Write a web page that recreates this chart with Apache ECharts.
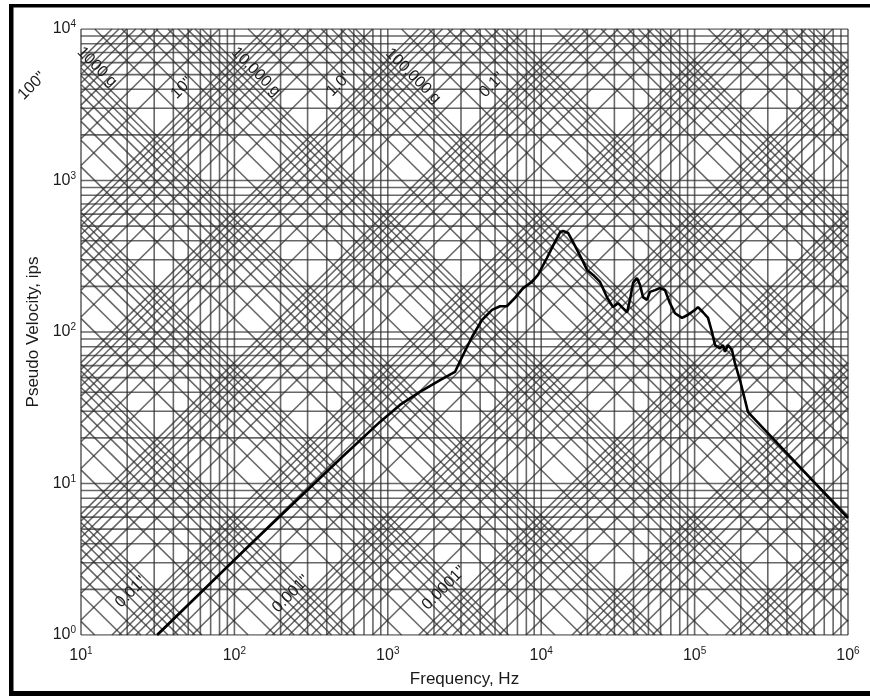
<!DOCTYPE html>
<html>
<head>
<meta charset="utf-8">
<title>Pseudo Velocity SRS</title>
<script src="https://cdn.jsdelivr.net/npm/echarts@6/dist/echarts.min.js"></script>
<style>
  html, body { margin: 0; padding: 0; background: #fff; }
  #chart { width: 870px; height: 696px; }
</style>
</head>
<body>
<div id="chart"></div>
<script>
// response curve (Hz, ips)
const freqHz = [31.3, 126, 488, 889, 1200, 1620, 2190, 2740, 3050, 3540, 4110, 4780, 5390, 5990,
  6750, 7610, 8710, 9530, 10900, 12300, 13300, 13900, 15000, 16100, 18500, 19900, 21800, 24200,
  26800, 29400, 31700, 33600, 36300, 37900, 39700, 42100, 44100, 46100, 48900, 51200, 55200,
  59500, 64100, 69100, 74500, 82800, 90600, 100600, 105200, 113400, 122300, 129800, 135800,
  146400, 153100, 157800, 165100, 175300, 183400, 197700, 213100, 222900, 1000000];
const pseudoVel = [1.0, 3.93, 14.5, 25.5, 33.0, 40.2, 48.2, 54.5, 68.4, 92.7, 120, 140, 148, 148,
  168, 195, 214, 238, 308, 393, 457, 464, 450, 393, 299, 257, 238, 214,
  170, 146, 155, 146, 135, 163, 211, 227, 204, 170, 163, 184, 189,
  195, 189, 155, 133, 124, 130, 140, 146, 135, 124, 100, 82,
  78, 82, 74, 82, 76, 62, 48, 35.6, 29.6, 5.92];

// axes: decades of frequency and velocity
const xExp = [1, 2, 3, 4, 5, 6];
const yExp = [0, 1, 2, 3, 4];
const gridMult = [1, 2, 3, 4, 5, 6, 7, 8, 9];
// tripartite lines: displacement (in) and acceleration (g) decades
const dispExp = [-8, -7, -6, -5, -4, -3, -2, -1, 0, 1, 2];
const accExp = [-1, 0, 1, 2, 3, 4, 5, 6, 7, 8];
const G_IPS2 = 386.09;

const dispLabels = ['100"', '10"', '1.0"', '0.1"', '0.01"', '0.001"', '0.0001"'];
const accLabels = ['1000 g', '10,000 g', '100,000 g'];

const X0 = xExp[0], X1 = xExp[xExp.length - 1];
const Y0 = yExp[0], Y1 = yExp[yExp.length - 1];
const segs = [];

// vertical and horizontal grid
xExp.forEach(k => gridMult.forEach(n => {
  const v = n * Math.pow(10, k);
  if (v <= Math.pow(10, X1)) segs.push([[v, Math.pow(10, Y0)], [v, Math.pow(10, Y1)]]);
}));
yExp.forEach(k => gridMult.forEach(n => {
  const v = n * Math.pow(10, k);
  if (v <= Math.pow(10, Y1)) segs.push([[Math.pow(10, X0), v], [Math.pow(10, X1), v]]);
}));
// constant displacement: PV = 2*pi*f*D
dispExp.forEach(k => gridMult.forEach(n => {
  const c = Math.log10(2 * Math.PI * n * Math.pow(10, k));
  const lo = Math.max(X0, Y0 - c), hi = Math.min(X1, Y1 - c);
  if (hi - lo > 1e-6) segs.push([[Math.pow(10, lo), Math.pow(10, lo + c)], [Math.pow(10, hi), Math.pow(10, hi + c)]]);
}));
// constant acceleration: PV = A*g/(2*pi*f)
accExp.forEach(k => gridMult.forEach(n => {
  const c = Math.log10(n * Math.pow(10, k) * G_IPS2 / (2 * Math.PI));
  const lo = Math.max(X0, c - Y1), hi = Math.min(X1, c - Y0);
  if (hi - lo > 1e-6) segs.push([[Math.pow(10, lo), Math.pow(10, c - lo)], [Math.pow(10, hi), Math.pow(10, c - hi)]]);
}));

const gridSeries = segs.map(d => ({
  type: 'line', data: d, symbol: 'none', silent: true, z: 1,
  lineStyle: { color: 'rgba(45,45,45,0.72)', width: 1.6 }
}));

const FONT = '"Liberation Sans", Arial, sans-serif';
const supLabel = v => '10{s|' + Math.round(Math.log10(v)) + '}';
const labelStyle = {
  color: '#1a1a1a', fontFamily: FONT, fontSize: 16,
  formatter: supLabel,
  rich: { s: { fontSize: 10, fontFamily: FONT, color: '#1a1a1a', verticalAlign: 'top', padding: [0, 0, 9, 0] } }
};

const diagText = (text, x, y, rot) => ({
  type: 'text', x: x, y: y, rotation: rot, z: 20,
  style: { text: text, font: '16px ' + FONT, fill: '#1a1a1a', align: 'center', verticalAlign: 'middle' }
});
const up = Math.PI / 4, down = -Math.PI / 4;

const chart = echarts.init(document.getElementById('chart'));
const option = {
  animation: false,
  backgroundColor: '#fff',
  grid: { left: 81, top: 29, right: 22, bottom: 61 },
  xAxis: {
    type: 'log', logBase: 10, min: Math.pow(10, X0), max: Math.pow(10, X1),
    name: 'Frequency, Hz', nameLocation: 'middle', nameGap: 36,
    nameTextStyle: { color: '#1a1a1a', fontFamily: FONT, fontSize: 17 },
    axisLine: { show: false }, axisTick: { show: false }, splitLine: { show: false },
    axisLabel: Object.assign({ margin: 11 }, labelStyle)
  },
  yAxis: {
    type: 'log', logBase: 10, min: Math.pow(10, Y0), max: Math.pow(10, Y1),
    name: 'Pseudo Velocity, ips', nameLocation: 'middle', nameGap: 33,
    nameTextStyle: { color: '#1a1a1a', fontFamily: FONT, fontSize: 17 },
    axisLine: { show: false }, axisTick: { show: false }, splitLine: { show: false },
    axisLabel: Object.assign({ margin: 5 }, labelStyle)
  },
  series: gridSeries.concat([{
    type: 'line', data: freqHz.map((f, i) => [f, pseudoVel[i]]),
    symbol: 'none', z: 10, silent: true,
    lineStyle: { color: '#000', width: 2.6 }
  }]),
  graphic: [
    { type: 'rect', shape: { x: 9, y: 4, width: 861, height: 3.5 }, style: { fill: '#000' }, z: 30 },
    { type: 'rect', shape: { x: 9, y: 4, width: 4.5, height: 692 }, style: { fill: '#000' }, z: 30 },
    { type: 'rect', shape: { x: 9, y: 691, width: 861, height: 5 }, style: { fill: '#000' }, z: 30 },
    diagText(dispLabels[0], 32, 86, up),
    diagText(dispLabels[1], 182, 88, up),
    diagText(dispLabels[2], 339, 84, up),
    diagText(dispLabels[3], 492, 85, up),
    diagText(dispLabels[4], 131, 592, up),
    diagText(dispLabels[5], 291, 594, up),
    diagText(dispLabels[6], 444, 588, up),
    diagText(accLabels[0], 97, 67, down),
    diagText(accLabels[1], 256, 72, down),
    diagText(accLabels[2], 413, 76, down)
  ]
};
chart.setOption(option);
</script>
</body>
</html>
